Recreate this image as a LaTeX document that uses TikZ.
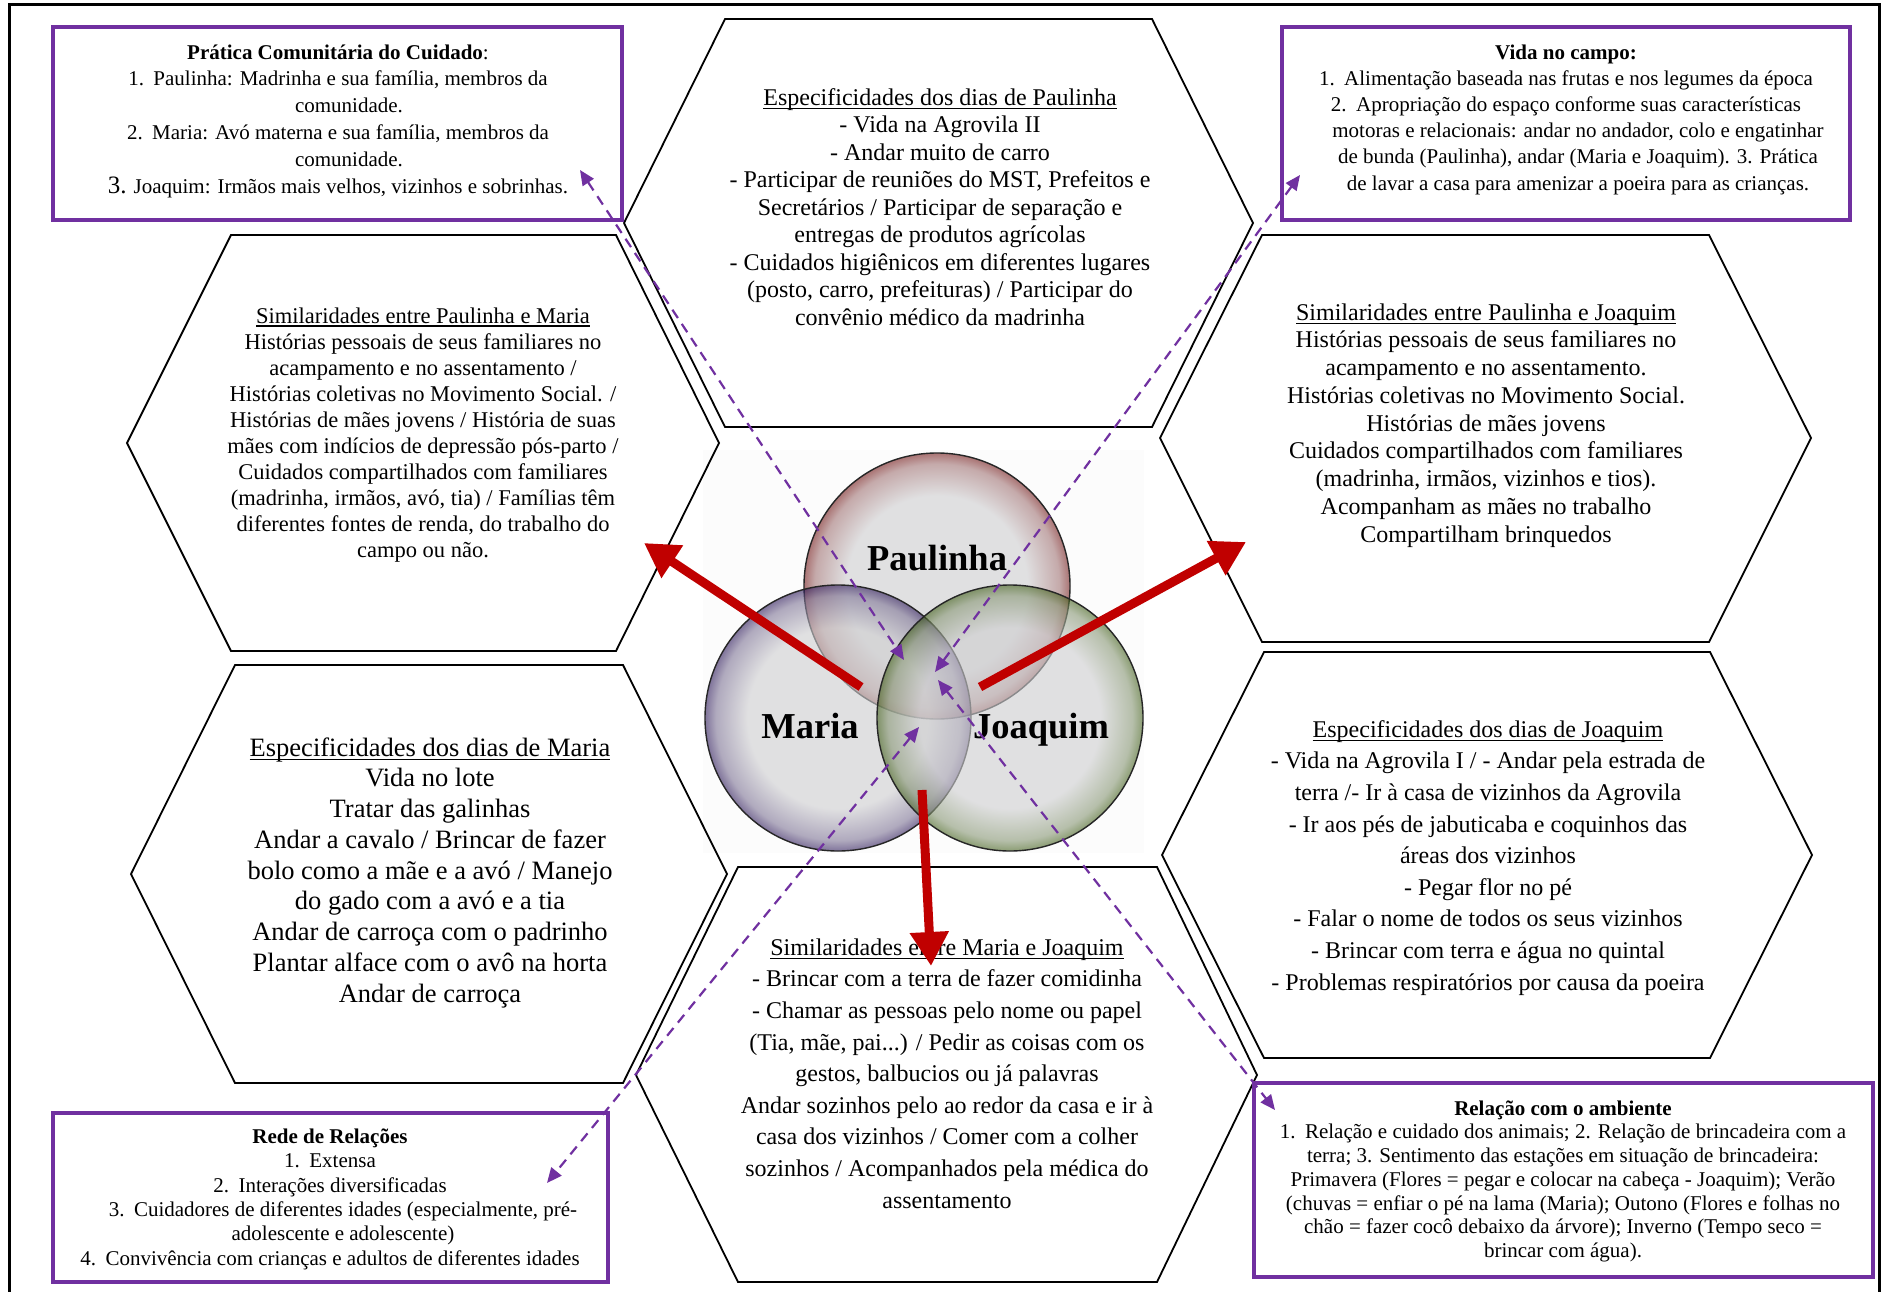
\documentclass[tikz,border=0pt]{standalone}
\usepackage{fontspec}
\setmainfont{Liberation Serif}
\usetikzlibrary{arrows.meta}

\definecolor{framepurple}{HTML}{7030A0}
\definecolor{linkpurple}{HTML}{7030A0}
\definecolor{arrowred}{HTML}{C00000}
\definecolor{ballcore}{RGB}{206,206,208}
\definecolor{paulrim}{RGB}{115,25,25}
\definecolor{mariarim}{RGB}{45,25,90}
\definecolor{joaqrim}{RGB}{65,95,25}
\colorlet{paulmid}{ballcore!50!paulrim}
\colorlet{mariamid}{ballcore!50!mariarim}
\colorlet{joaqmid}{ballcore!50!joaqrim}

% glassy balls of the Venn diagram: light core, tinted rim
% (the path's bounding box maps onto the inner 50bp square of a shading)
\pgfdeclareradialshading{paulball}{\pgfpoint{0bp}{0bp}}{color(0bp)=(ballcore); color(17bp)=(ballcore); color(23bp)=(paulmid); color(25bp)=(paulrim); color(50bp)=(paulrim)}
\pgfdeclareradialshading{mariaball}{\pgfpoint{0bp}{0bp}}{color(0bp)=(ballcore); color(17bp)=(ballcore); color(23bp)=(mariamid); color(25bp)=(mariarim); color(50bp)=(mariarim)}
\pgfdeclareradialshading{joaqball}{\pgfpoint{0bp}{0bp}}{color(0bp)=(ballcore); color(17bp)=(ballcore); color(23bp)=(joaqmid); color(25bp)=(joaqrim); color(50bp)=(joaqrim)}

\newcommand\setfs[2]{\fontsize{#1}{#2}\selectfont}
\newcommand\topstrut{\rule{0pt}{0.95em}}
\newcommand\undl[1]{\setbox0=\hbox{#1}\rlap{\rule[-0.16em]{\wd0}{0.06em}}\box0}

\begin{document}
\begin{tikzpicture}[x=1pt,y=-1pt,
  hexline/.style={draw=black, line width=1.8pt, line join=miter},
  notebox/.style={draw=framepurple, line width=3.6pt},
  txt/.style={align=center, inner sep=0pt, anchor=north, text=black},
  redarrow/.style={color=arrowred, line width=9pt, -{Triangle[length=34pt,width=37pt]}},
  linkarrow/.style={color=linkpurple, line width=2.2pt, dash pattern=on 10pt off 7pt,
    {Triangle[length=15pt,width=13pt]}-{Triangle[length=15pt,width=13pt]}},
  ball/.style={circle, minimum size=266pt, inner sep=0pt, fill opacity=0.6,
    draw=black!85, draw opacity=1, line width=1.4pt},
  namelbl/.style={font=\setfs{36.5}{40}\bfseries, anchor=base, inner sep=0pt}
]
\useasboundingbox (0,0) rectangle (1881,1292);
\fill[white] (0,0) rectangle (1881,1292);

% page frame
\draw[line width=3pt] (9,1300) -- (9,5) -- (1879,5) -- (1879,1300);

% faint backdrop behind the Venn balls
\fill[black!1.2] (703,450) rectangle (1144,853);

% hexagons
\draw[hexline] (725,19) -- (1152,19) -- (1253,223) -- (1152,427) -- (725,427) -- (624,223) -- cycle;
\draw[hexline] (231,235) -- (616,235) -- (719,443) -- (616,651) -- (231,651) -- (127,443) -- cycle;
\draw[hexline] (1262,235) -- (1709,235) -- (1811,438) -- (1709,642) -- (1262,642) -- (1160,438) -- cycle;
\draw[hexline] (235,665) -- (623,665) -- (727,874) -- (623,1083) -- (235,1083) -- (131,874) -- cycle;
\draw[hexline] (1264,652) -- (1710,652) -- (1812,855) -- (1710,1058) -- (1264,1058) -- (1162,855) -- cycle;
\draw[hexline] (738,867) -- (1157,867) -- (1257,1075) -- (1157,1282) -- (738,1282) -- (636,1075) -- cycle;

% purple note boxes
\draw[notebox] (53,27) rectangle (622,220);
\draw[notebox] (1282,27) rectangle (1850,220);
\draw[notebox] (53,1113) rectangle (608,1282);
\draw[notebox] (1254,1083) rectangle (1873,1277);

% hexagon texts
\node[txt, font=\setfs{24}{27.5}] (paulspec) at (940,{105-0.95*24}) {\topstrut\undl{Especificidades dos dias de Paulinha}\\
- Vida na Agrovila II\\
- Andar muito de carro\\
- Participar de reuniões do MST, Prefeitos e\\
Secretários / Participar de separação e\\
entregas de produtos agrícolas\\
- Cuidados higiênicos em diferentes lugares\\
(posto, carro, prefeituras) / Participar do\\
convênio médico da madrinha};

\node[txt, font=\setfs{22.5}{26}] (pmsim) at (423,{323-0.95*22.5}) {\topstrut\undl{Similaridades entre Paulinha e Maria}\\
Histórias pessoais de seus familiares no\\
acampamento e no assentamento /\\
Histórias coletivas no Movimento Social. /\\
Histórias de mães jovens / História de suas\\
mães com indícios de depressão pós-parto /\\
Cuidados compartilhados com familiares\\
(madrinha, irmãos, avó, tia) / Famílias têm\\
diferentes fontes de renda, do trabalho do\\
campo ou não.};

\node[txt, font=\setfs{24}{27.75}] (pjsim) at (1486,{320-0.95*24}) {\topstrut\undl{Similaridades entre Paulinha e Joaquim}\\
Histórias pessoais de seus familiares no\\
acampamento e no assentamento.\\
Histórias coletivas no Movimento Social.\\
Histórias de mães jovens\\
Cuidados compartilhados com familiares\\
(madrinha, irmãos, vizinhos e tios).\\
Acompanham as mães no trabalho\\
Compartilham brinquedos};

\node[txt, font=\setfs{26.5}{30.75}] (mariaspec) at (430,{756-0.95*26.5}) {\topstrut\undl{Especificidades dos dias de Maria}\\
Vida no lote\\
Tratar das galinhas\\
Andar a cavalo / Brincar de fazer\\
bolo como a mãe e a avó / Manejo\\
do gado com a avó e a tia\\
Andar de carroça com o padrinho\\
Plantar alface com o avô na horta\\
Andar de carroça};

\node[txt, font=\setfs{24}{31.6}] (joaqspec) at (1488,{737-0.95*24}) {\topstrut\undl{Especificidades dos dias de Joaquim}\\
- Vida na Agrovila I / - Andar pela estrada de\\
terra /- Ir à casa de vizinhos da Agrovila\\
- Ir aos pés de jabuticaba e coquinhos das\\
áreas dos vizinhos\\
- Pegar flor no pé\\
- Falar o nome de todos os seus vizinhos\\
- Brincar com terra e água no quintal\\
- Problemas respiratórios por causa da poeira};

\node[txt, font=\setfs{24}{31.6}] (mjsim) at (947,{955-0.95*24}) {\topstrut\undl{Similaridades entre Maria e Joaquim}\\
- Brincar com a terra de fazer comidinha\\
- Chamar as pessoas pelo nome ou papel\\
(Tia, mãe, pai...) / Pedir as coisas com os\\
gestos, balbucios ou já palavras\\
Andar sozinhos pelo ao redor da casa e ir à\\
casa dos vizinhos / Comer com a colher\\
sozinhos / Acompanhados pela médica do\\
assentamento};

% note box texts
\node[txt, font=\setfs{21}{26.8}] (praticatxt) at (338,{59-0.95*21}) {\topstrut\textbf{Prática Comunitária do Cuidado}:\\
1.\hspace{0.45em}Paulinha: Madrinha e sua família, membros da\\
\hspace*{22pt}comunidade.\\
2.\hspace{0.45em}Maria: Avó materna e sua família, membros da\\
\hspace*{22pt}comunidade.\\
{\setfs{25}{26.8}3.} Joaquim: Irmãos mais velhos, vizinhos e sobrinhas.};

\node[txt, font=\setfs{21}{26.2}] (campotxt) at (1566,{59-0.95*21}) {\topstrut\textbf{Vida no campo:}\\
1.\hspace{0.45em}Alimentação baseada nas frutas e nos legumes da época\\
2.\hspace{0.45em}Apropriação do espaço conforme suas características\\
\hspace*{24pt}motoras e relacionais: andar no andador, colo e engatinhar\\
\hspace*{24pt}de bunda (Paulinha), andar (Maria e Joaquim). 3. Prática\\
\hspace*{24pt}de lavar a casa para amenizar a poeira para as crianças.};

\node[txt, font=\setfs{21}{24.4}] (redetxt) at (330,{1143-0.95*21}) {\topstrut\textbf{Rede de Relações}\\
1.\hspace{0.45em}Extensa\\
2.\hspace{0.45em}Interações diversificadas\\
\hspace*{26pt}3.\hspace{0.45em}Cuidadores de diferentes idades (especialmente, pré-\\
\hspace*{26pt}adolescente e adolescente)\\
4.\hspace{0.45em}Convivência com crianças e adultos de diferentes idades};

\node[txt, font=\setfs{21}{23.7}] (ambientetxt) at (1563,{1115-0.95*21}) {\topstrut\textbf{Relação com o ambiente}\\
1.\hspace{0.45em}Relação e cuidado dos animais; 2. Relação de brincadeira com a\hspace*{22pt}\\
terra; 3. Sentimento das estações em situação de brincadeira:\\
Primavera (Flores = pegar e colocar na cabeça - Joaquim); Verão\\
(chuvas = enfiar o pé na lama (Maria); Outono (Flores e folhas no\\
chão = fazer cocô debaixo da árvore); Inverno (Tempo seco =\\
brincar com água).};

% Venn balls
\node[ball, shading=paulball] (pball) at (937,586) {};
\node[ball, shading=mariaball] (mball) at (838,718) {};
\node[ball, shading=joaqball] (jball) at (1010,718) {};

\node[namelbl] (paulname) at (937,570) {Paulinha};
\node[namelbl] (marianame) at (810,738) {Maria};
\node[namelbl] (joaqname) at (1041,738) {Joaquim};

% red arrows from the overlaps to the similarity hexagons
\coordinate (pmfrom) at (861,687);
\coordinate (pmto) at (644,543);
\coordinate (pjfrom) at (980,687);
\coordinate (pjto) at (1246,542);
\coordinate (mjfrom) at (922,790);
\coordinate (mjto) at (931,966);
\draw[redarrow] (pmfrom) -- (pmto);
\draw[redarrow] (pjfrom) -- (pjto);
\draw[redarrow] (mjfrom) -- (mjto);

% dashed links between the centre and the note boxes
\coordinate (praticaend) at (580,170);
\coordinate (centreA) at (904,660);
\coordinate (centreB) at (938,680);
\coordinate (ambienteend) at (1275,1110);
\coordinate (campoend) at (1300,175);
\coordinate (centreC) at (935,672);
\coordinate (centreD) at (919,727);
\coordinate (redeend) at (547,1183);
\draw[linkarrow] (praticaend) -- (centreA);
\draw[linkarrow] (centreB) -- (ambienteend);
\draw[linkarrow] (campoend) -- (centreC);
\draw[linkarrow] (centreD) -- (redeend);
\end{tikzpicture}
\end{document}
